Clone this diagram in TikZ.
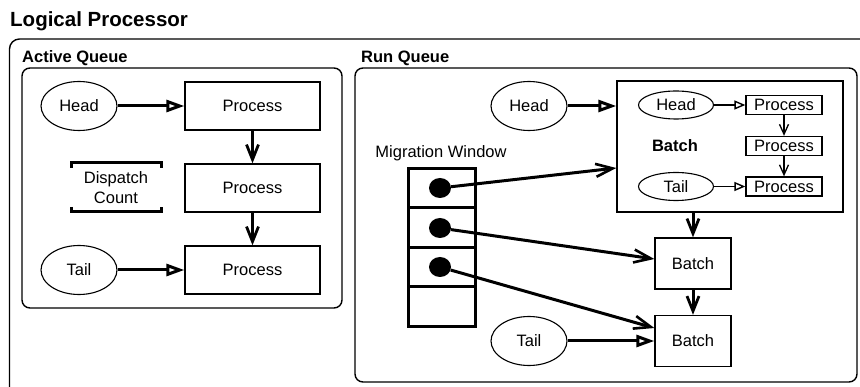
\documentclass[tikz,border=0pt]{standalone}
\usepackage{fontspec}
\setmainfont{Liberation Sans}
\usetikzlibrary{arrows.meta,shapes.geometric}
\begin{document}
\begin{tikzpicture}[x=1pt,y=-1pt,
  font=\fontsize{16.5}{20}\selectfont,
  ell/.style={draw,ellipse,line width=1.1pt,minimum width=76pt,minimum height=49pt,inner sep=0pt},
  sell/.style={draw,ellipse,line width=1.1pt,minimum width=75pt,minimum height=28pt,inner sep=0pt},
  proc/.style={draw,rectangle,line width=1.3pt,minimum width=135pt,minimum height=48pt,inner sep=0pt},
  sproc/.style={draw,rectangle,line width=1.3pt,minimum width=76pt,minimum height=19pt,inner sep=0pt},
  bat/.style={draw,rectangle,line width=1.3pt,minimum width=76pt,minimum height=51pt,inner sep=0pt},
  cell/.style={draw,rectangle,line width=3pt,minimum width=67pt,minimum height=39.5pt,inner sep=0pt},
  dot/.style={ellipse,fill=black,minimum width=22pt,minimum height=20pt,inner sep=0pt},
  tri/.style={line width=3pt,-{Triangle[open,length=18pt,width=12pt,line width=3pt]}},
  stri/.style={line width=1.3pt,-{Triangle[open,length=11pt,width=9pt,line width=1.4pt]}},
  barb/.style={line width=3pt,-{Straight Barb[length=15pt,width=12pt,line width=2.8pt]}},
  sbarb/.style={line width=1.3pt,-{Straight Barb[length=10pt,width=9pt,line width=1.3pt]}},
  ptr/.style={line width=3pt,-{Straight Barb[length=17pt,width=13pt,line width=2.6pt]}},
  frame/.style={draw,line width=1.4pt,rounded corners=8pt},
  ttl/.style={font=\fontsize{16.5}{20}\selectfont\bfseries,anchor=base west,inner sep=0pt},
]
\useasboundingbox (0,0) rectangle (860,387);
\begin{scope}
  \clip (0,0) rectangle (860,387);
  \draw[frame,rounded corners=10pt] (9.5,39) rectangle (920,440);
\end{scope}
\draw[frame] (22,68) rectangle (342,308);
\draw[frame] (355,68) rectangle (857,382);

\node[ttl,font=\fontsize{20.5}{24}\selectfont\bfseries] (lp) at (10,27) {Logical Processor};
\node[ttl] (aq) at (22,63) {Active Queue};
\node[ttl] (rq) at (361,63) {Run Queue};

% Active queue
\node[ell] (ah) at (79,106) {Head};
\node[proc] (ap1) at (252.5,106) {Process};
\node[proc] (ap2) at (252.5,188) {Process};
\node[proc] (ap3) at (252.5,270) {Process};
\node[ell] (at) at (79,270) {Tail};
\draw[tri] (ah) -- (ap1);
\draw[barb] (ap1) -- (ap2);
\draw[barb] (ap2) -- (ap3);
\draw[tri] (at) -- (ap3);
\node[align=center,inner sep=0pt] (dc) at (116,187.5) {Dispatch\\Count};
\draw[line width=3pt] (71,168) -- (71,163) -- (161,163) -- (161,168);
\draw[line width=3pt] (71,207) -- (71,212) -- (161,212) -- (161,207);

% Run queue
\node[ell] (rh) at (529,106) {Head};
\node[draw,rectangle,line width=1.4pt,minimum width=226pt,minimum height=131pt,inner sep=0pt] (bb) at (730,146.5) {};
\node[font=\fontsize{16.5}{20}\selectfont\bfseries] (bl) at (675,146) {Batch};
\node[sell] (sh) at (676,105) {Head};
\node[sproc] (sp1) at (784,105) {Process};
\node[sproc] (sp2) at (784,146) {Process};
\node[sproc] (sp3) at (784,186.5) {Process};
\node[sell] (st) at (676,186.5) {Tail};
\draw[stri] (sh) -- (sp1);
\draw[sbarb] (sp1) -- (sp2);
\draw[sbarb] (sp2) -- (sp3);
\draw[stri] (st) -- (sp3);
\draw[tri] (rh) -- (rh -| bb.west);

\node[anchor=base,inner sep=0pt] (mwl) at (441,158) {Migration Window};
\node[cell] (c1) at (441.5,188) {};
\node[cell] (c2) at (441.5,227.5) {};
\node[cell] (c3) at (441.5,267) {};
\node[cell] (c4) at (441.5,306.5) {};
\node[dot] (d1) at (440,188) {};
\node[dot] (d2) at (440,228) {};
\node[dot] (d3) at (440,267) {};

\node[bat] (b1) at (693,263.5) {Batch};
\node[bat] (b2) at (693,341) {Batch};
\node[ell] (rt) at (529,341) {Tail};
\draw[ptr] (d1) -- ([yshift=-21.5pt]bb.west);
\draw[ptr] (d2) -- ([yshift=4.5pt]b1.west);
\draw[ptr] (d3) -- ([yshift=13pt]b2.west);
\draw[barb] (bb.south -| b1.north) -- (b1.north);
\draw[barb] (b1) -- (b2);
\draw[tri] (rt) -- (b2);
\end{tikzpicture}
\end{document}
